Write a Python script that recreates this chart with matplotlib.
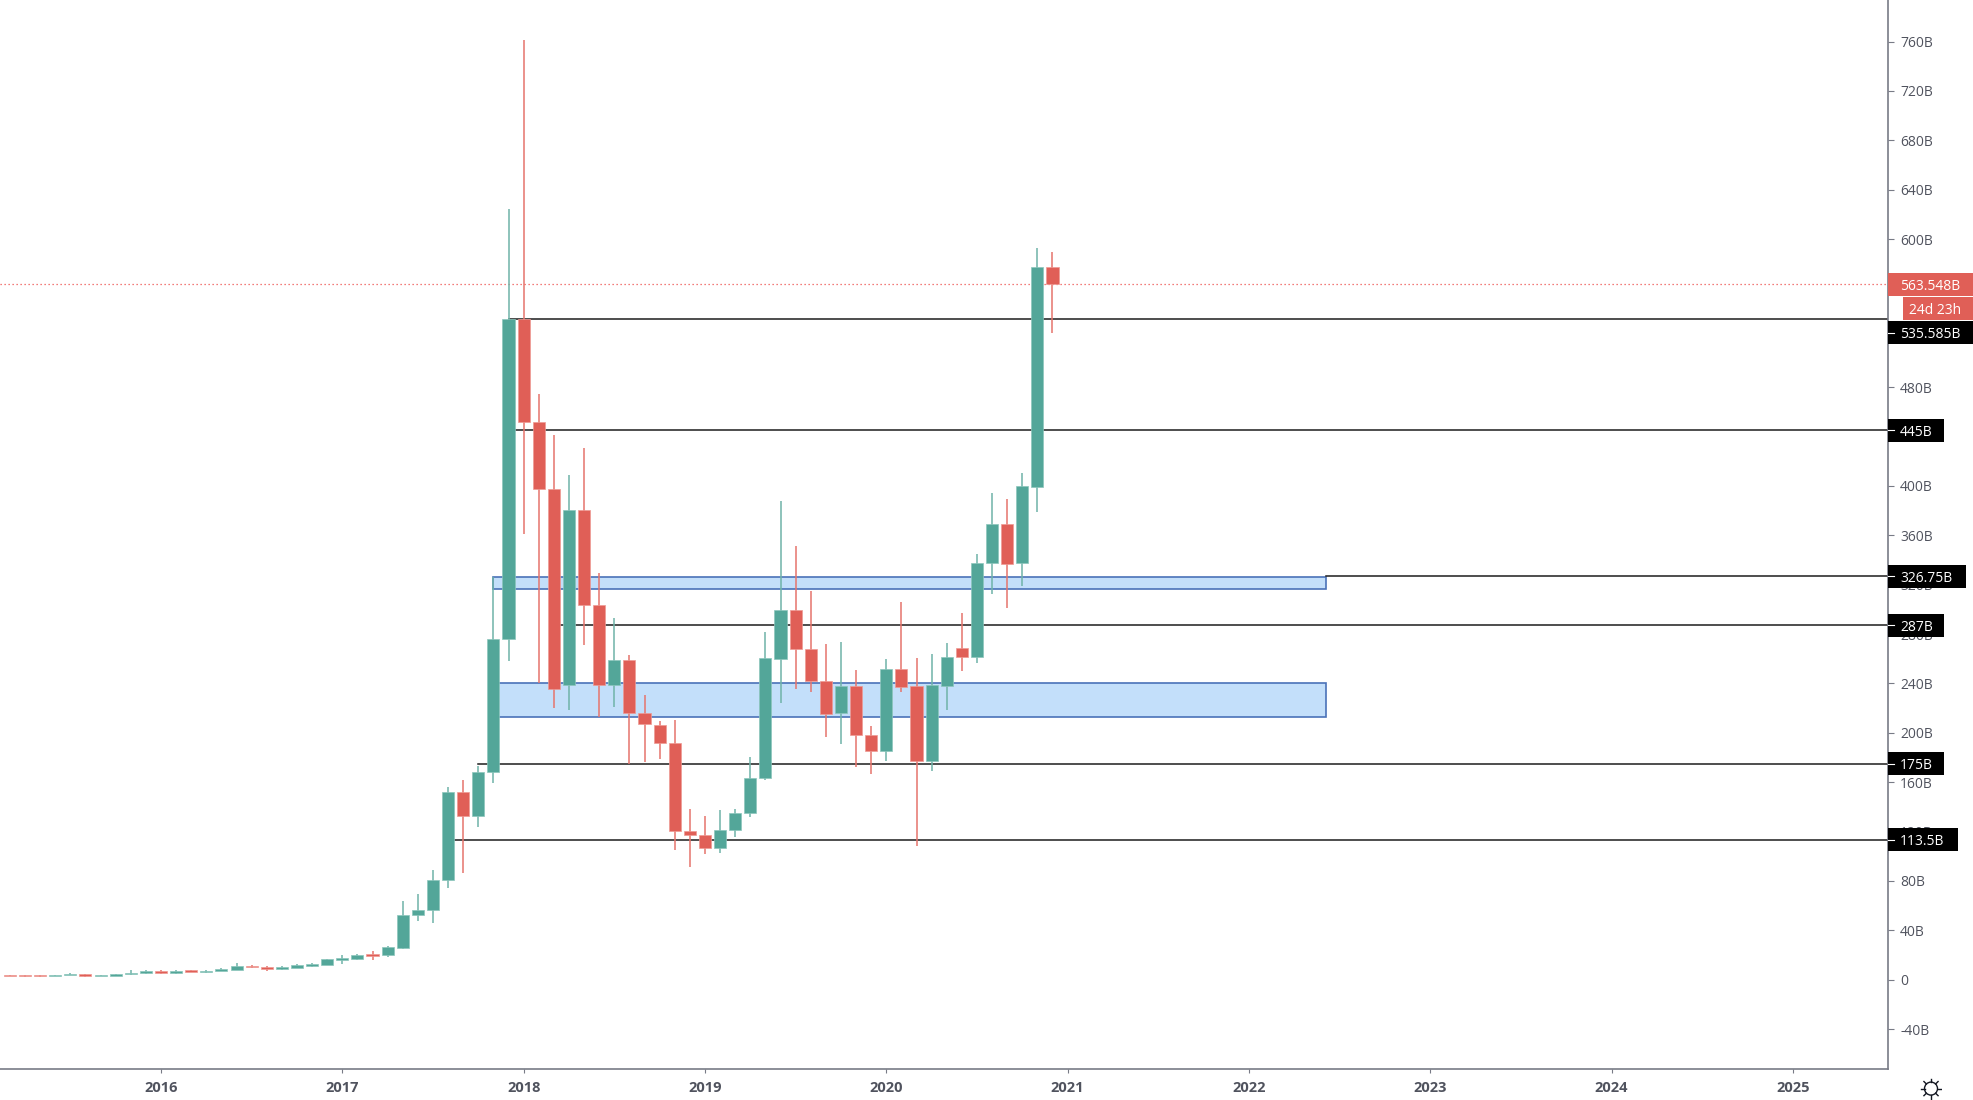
import numpy as np
import matplotlib
matplotlib.use('Agg')
import matplotlib.pyplot as plt
from matplotlib.patches import Rectangle, Circle

# monthly candles, index 0 = Jan 2016, values in billions
first_month = -10
opens = [3.6, 3.8, 3.8, 3.3, 3.8, 4.35, 3.3, 3.0, 4.6, 5.4,
         7.1, 5.4, 7.6, 6.5, 7.1, 8.1, 11.4, 10.6, 8.9, 9.7, 11.1, 12.1,
         16.0, 16.5, 20.5, 19.7, 25.7, 52.1, 56.5, 80.8, 152.3, 132.6, 168.3, 276.3,
         535.3, 451.6, 397.3, 239.0, 380.8, 303.6, 239.0, 258.8, 215.8, 206.4, 191.5, 120.5,
         117.0, 106.5, 121.3, 135.3, 163.4, 260.1, 299.2, 267.9, 242.0, 215.8, 237.9, 198.5,
         185.3, 252.0, 237.9, 176.9, 238.2, 268.4, 261.7, 337.9, 369.0, 337.3, 399.4, 577.7]
closes = [3.3, 2.7, 2.7, 3.8, 4.35, 3.3, 3.8, 4.9, 5.7, 6.8,
          5.4, 6.8, 6.2, 7.3, 8.4, 11.1, 10.3, 8.9, 10.0, 11.9, 12.7, 16.5,
          17.3, 20.0, 18.9, 26.2, 52.1, 56.7, 81.2, 152.3, 132.6, 168.3, 276.3, 535.3,
          451.6, 397.3, 235.8, 380.3, 303.6, 239.0, 258.8, 215.8, 207.4, 191.5, 120.5, 117.0,
          106.5, 121.3, 135.3, 163.7, 260.4, 299.2, 267.9, 242.0, 215.2, 237.9, 198.5, 185.3,
          251.4, 237.4, 176.9, 238.8, 261.4, 261.1, 337.9, 369.0, 336.8, 400.2, 577.2, 563.548]
highs = [4.2, 4.0, 3.9, 3.9, 5.2, 4.4, 3.9, 5.0, 8.1, 7.9,
         7.9, 7.9, 7.7, 7.9, 9.2, 13.3, 12.2, 11.4, 10.8, 12.7, 13.8, 16.8,
         20.0, 20.8, 23.0, 27.0, 64.0, 69.4, 89.3, 155.9, 161.8, 173.2, 326.5, 624.2,
         761.4, 474.5, 441.3, 408.9, 430.8, 329.8, 292.8, 263.0, 230.4, 209.8, 210.4, 138.0,
         132.6, 137.3, 138.0, 180.4, 282.0, 388.0, 351.4, 314.6, 272.0, 273.6, 250.9, 205.8,
         259.5, 306.3, 260.9, 264.1, 272.5, 296.8, 344.6, 394.1, 389.2, 410.8, 592.6, 589.3]
lows = [3.2, 2.5, 2.5, 3.2, 3.7, 2.2, 3.1, 2.9, 3.8, 4.9,
        4.9, 4.9, 6.0, 5.7, 6.8, 7.9, 9.5, 7.3, 8.1, 9.5, 10.6, 11.9,
        12.4, 16.0, 16.0, 18.4, 25.1, 47.8, 46.2, 74.0, 86.7, 124.0, 159.0, 258.0,
        360.9, 240.0, 220.4, 218.5, 271.2, 212.6, 221.2, 174.5, 176.1, 179.0, 104.8, 91.0,
        101.8, 102.4, 115.9, 132.1, 161.8, 224.5, 235.2, 233.4, 196.9, 190.7, 172.0, 166.4,
        176.9, 233.4, 108.3, 169.3, 218.5, 250.4, 256.3, 312.7, 301.1, 319.2, 378.9, 524.2]

last_price = 563.548

# horizontal levels drawn on the chart: value, first month, tag text, tag width
level_values = [535.585, 445, 326.75, 287, 175, 113.5]
level_starts = [23, 23, 77.1, 26, 21, 19]
level_tags = ['535.585B', '445B', '326.75B', '287B', '175B', '113.5B']
tag_widths = [85, 56, 78, 56, 56, 70]

# shaded zones
zone_bottoms = [316.5, 212.8]
zone_tops = [326.6, 240.1]
zone_start = 22
zone_end = 77.1

years = [2016, 2017, 2018, 2019, 2020, 2021, 2022, 2023, 2024, 2025]
y_ticks = list(range(-40, 800, 40))
hidden_y_labels = [520, 560]  # fully covered by the price tags

GREEN = '#53a699'
GREEN_WICK = '#6fb3a8'
RED = '#e05f57'
RED_WICK = '#e6746c'
TEXT = '#50535e'
AXIS = '#787b86'
FONT = 'Open Sans'

W, H = 1973, 1100
PANEL_X = 1888
BOTTOM_Y = 1069

fig = plt.figure(figsize=(W / 100, H / 100), dpi=100, facecolor='white')
ax = fig.add_axes([0, (H - BOTTOM_Y) / H, PANEL_X / W, BOTTOM_Y / H])

months = np.arange(first_month, first_month + len(opens))
opens = np.array(opens)
closes = np.array(closes)
highs = np.array(highs)
lows = np.array(lows)
up = closes >= opens

# zones and levels go under the candles
for bottom, top in zip(zone_bottoms, zone_tops):
    ax.add_patch(Rectangle((zone_start, bottom), zone_end - zone_start, top - bottom,
                           facecolor='#c3dffa', edgecolor='#4a72b8', linewidth=1.2, zorder=1))
for value, start in zip(level_values, level_starts):
    ax.plot([start, 200], [value, value], color='#1c1c1c', linewidth=1.1, zorder=2)
ax.axhline(last_price, color='#ef5350', linewidth=0.9, linestyle=(0, (1, 2.2)), zorder=2)

ax.vlines(months[up], lows[up], highs[up], color=GREEN_WICK, linewidth=1.1, zorder=3)
ax.vlines(months[~up], lows[~up], highs[~up], color=RED_WICK, linewidth=1.1, zorder=3)
ax.bar(months[up], closes[up] - opens[up], bottom=opens[up], width=0.8,
       color=GREEN, edgecolor='#8cc6bc', linewidth=0.5, zorder=4)
ax.bar(months[~up], closes[~up] - opens[~up], bottom=opens[~up], width=0.8,
       color=RED, edgecolor='#ee9a94', linewidth=0.5, zorder=4)

px_per_month = 15.11
x0 = -161 / px_per_month
ax.set_xlim(x0, x0 + PANEL_X / px_per_month)
ylim = (-72.3, 793.7)
ax.set_ylim(ylim)

ax.spines['top'].set_visible(False)
ax.spines['left'].set_visible(False)
ax.spines['right'].set_color(AXIS)
ax.spines['bottom'].set_color(AXIS)
ax.spines['right'].set_linewidth(1.2)
ax.spines['bottom'].set_linewidth(1.2)

ax.yaxis.tick_right()
ax.set_yticks(y_ticks)
y_labels = ['0' if v == 0 else '' if v in hidden_y_labels else f'{v}B' for v in y_ticks]
ax.set_yticklabels(y_labels, fontsize=10, color=TEXT, family=FONT)
ax.tick_params(axis='y', length=4.3, width=0.8, color=AXIS, pad=4.5)
ax.set_xticks([(y - 2016) * 12 for y in years])
ax.set_xticklabels([str(y) for y in years], fontsize=10.5, fontweight='bold',
                   color=TEXT, family=FONT)
ax.tick_params(axis='x', length=3, width=0.8, color=AXIS, pad=6)

# price tags sit on top of the scale, x here is pixels from the scale line
tags = fig.add_axes([PANEL_X / W, (H - BOTTOM_Y) / H, (W - PANEL_X) / W, BOTTOM_Y / H], zorder=5)
tags.set_xlim(0, W - PANEL_X)
tags.set_ylim(ylim)
tags.axis('off')
tag_h = 18.6


def price_tag(value, width, text, color, x=0, text_x=12, tick=True):
    tags.add_patch(Rectangle((x, value - tag_h / 2), width - x, tag_h, facecolor=color,
                             edgecolor='none', clip_on=False))
    tags.text(text_x, value, text, color='white', fontsize=10, va='center_baseline',
              ha='left', family=FONT)
    if tick:
        tags.plot([0, 6], [value, value], color='white', linewidth=0.8)


for value, tag, width in zip(level_values, level_tags, tag_widths):
    # the top tag gets pushed down by the countdown tag
    shown = value - 11.6 if value == level_values[0] else value
    price_tag(shown, width, tag, 'black')
price_tag(last_price, 85, f'{last_price:.3f}B', RED, tick=False)
price_tag(last_price - 20, 85, '24d 23h', RED, x=15, text_x=21, tick=False)

# sun icon in the corner
icon = fig.add_axes([1920 / W, 0.4 / H, 22 / W, 22 / H], zorder=5)
icon.set_xlim(-11, 11)
icon.set_ylim(-11, 11)
icon.axis('off')
icon.add_patch(Circle((0, 0), 6.5, facecolor='none', edgecolor='#131722', linewidth=1.0))
for a in np.deg2rad(np.arange(0, 360, 45)):
    icon.plot([6.5 * np.cos(a), 10 * np.cos(a)], [6.5 * np.sin(a), 10 * np.sin(a)],
              color='#131722', linewidth=1.0)

fig.savefig('out.png', dpi=100)
